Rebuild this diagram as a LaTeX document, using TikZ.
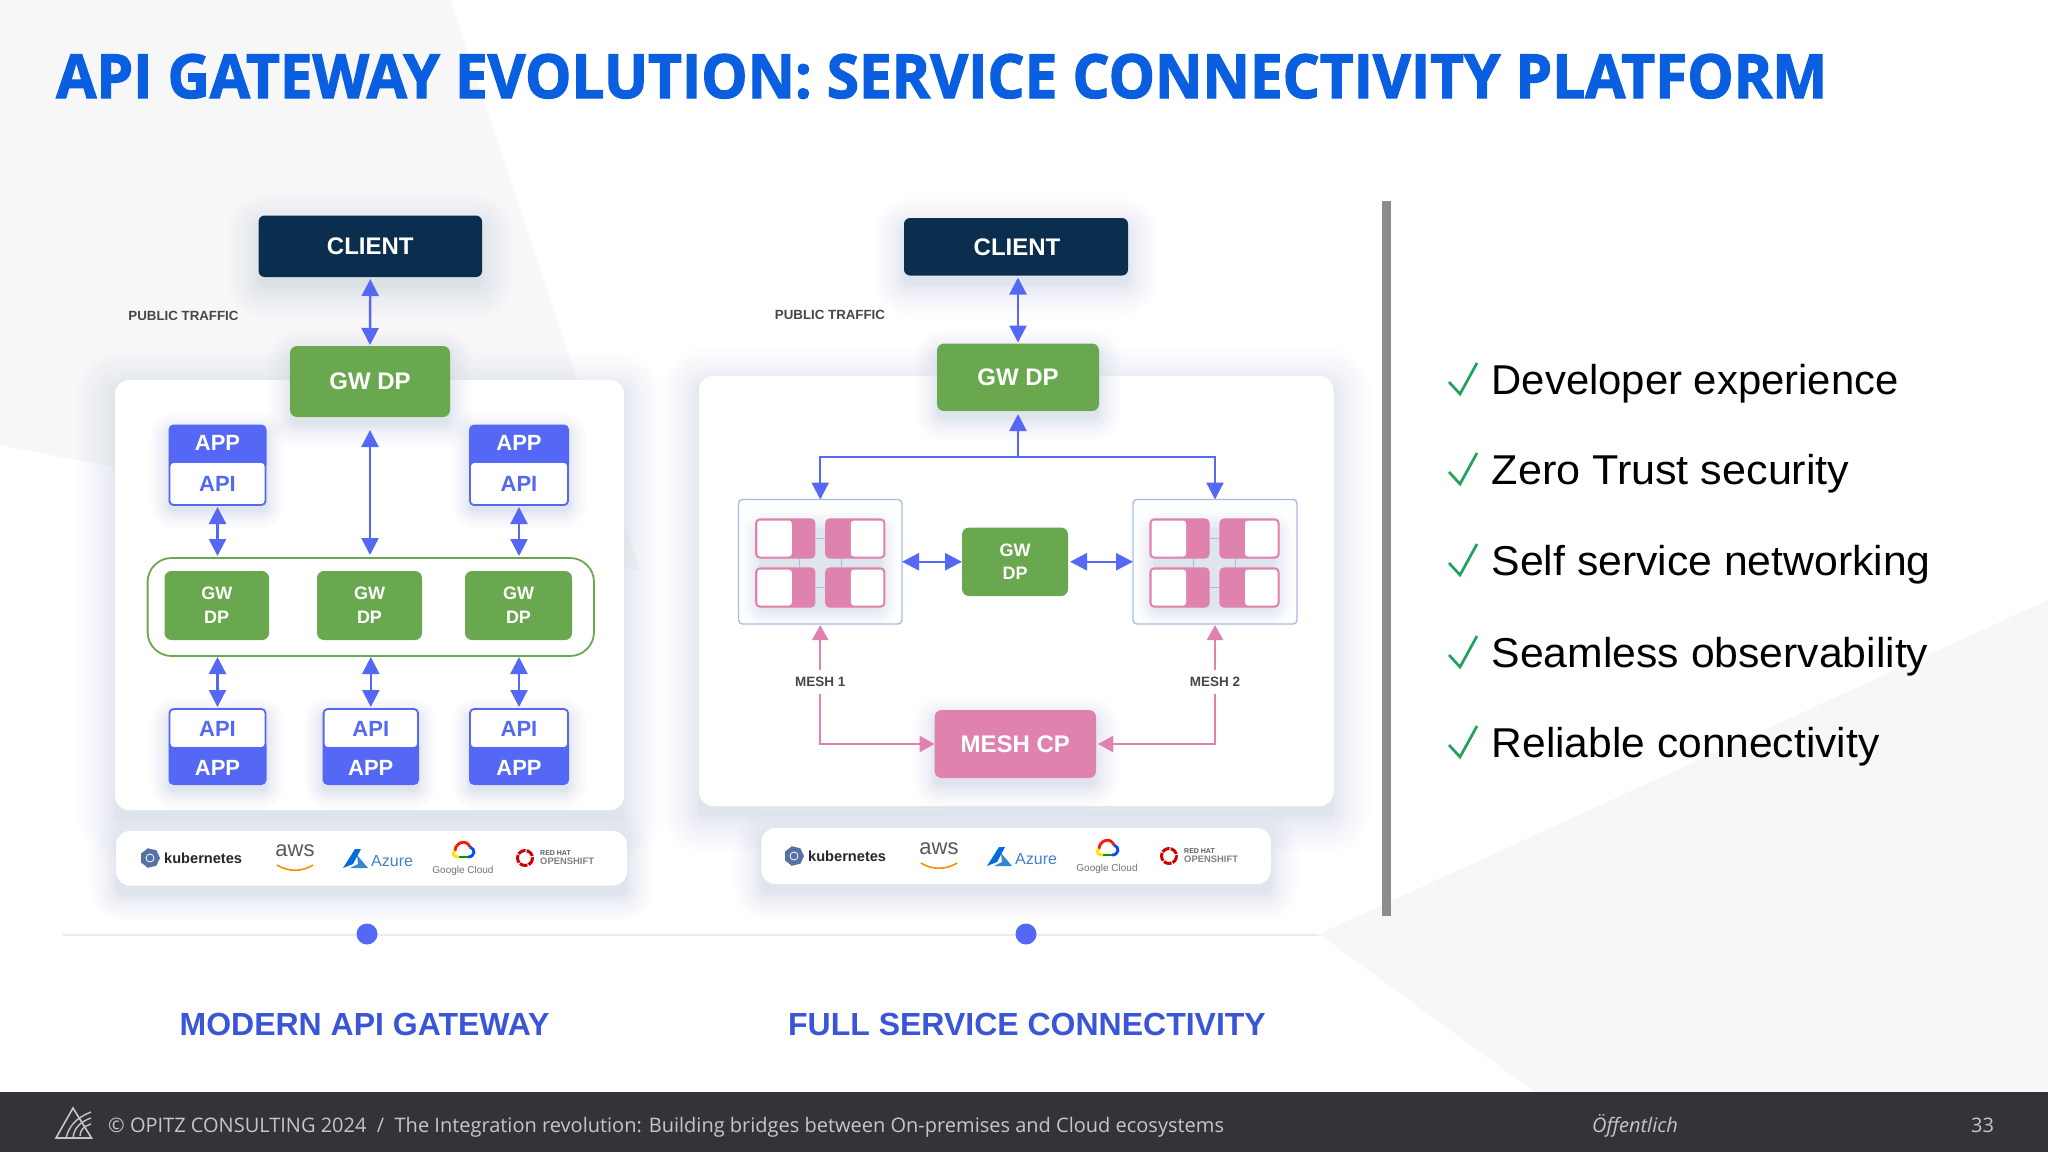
\documentclass[tikz,border=0pt]{standalone}
\usepackage{fontspec}
\usepackage{graphicx}
\usetikzlibrary{arrows.meta,calc}
\setmainfont{Liberation Sans}
\newfontfamily\titlefont[BoldFeatures={FakeBold=2},FakeStretch=0.96]{Open Sans}
\newfontfamily\footfont{Open Sans}
\definecolor{bluemain}{HTML}{5468F5}
\definecolor{greenmain}{HTML}{6AA84F}
\definecolor{pinkmain}{HTML}{DF82AE}
\definecolor{navymain}{HTML}{0B2D4E}
\definecolor{shadowcol}{HTML}{66718F}
\definecolor{bggray}{HTML}{F7F7F8}
\definecolor{titleblue}{HTML}{0A5FE0}
\definecolor{capblue}{HTML}{3A55D8}
\definecolor{footbg}{HTML}{333438}
\definecolor{foottext}{HTML}{C6C6C8}
\definecolor{checkgreen}{HTML}{1FA35C}
\definecolor{meshline}{HTML}{A9BCE0}
\tikzset{
  x=1pt,y=-1pt,
  boxbase/.style={inner sep=0pt,outer sep=0pt,align=center,text=white,font=\fontsize{24}{24}\selectfont\bfseries},
  clientbox/.style={boxbase,fill=navymain,rounded corners=6pt},
  gwbox/.style={boxbase,fill=greenmain,rounded corners=7pt},
  gwsmall/.style={boxbase,fill=greenmain,rounded corners=7pt,font=\fontsize{18}{23.7}\selectfont\bfseries},
  meshcpbox/.style={boxbase,fill=pinkmain,rounded corners=7pt},
  cardbox/.style={inner sep=0pt,outer sep=0pt,fill=white,rounded corners=14pt},
  groupbox/.style={inner sep=0pt,outer sep=0pt,fill=white,draw=greenmain,line width=1.8pt,rounded corners=24pt},
  appbox/.style={boxbase,fill=bluemain,rounded corners=5pt},
  apibox/.style={boxbase,fill=white,draw=bluemain,line width=1.8pt,text=bluemain,rounded corners=4pt,font=\fontsize{22}{22}\selectfont\bfseries},
  apptext/.style={inner sep=0pt,text=white,font=\fontsize{22}{22}\selectfont\bfseries},
  meshbox/.style={inner sep=0pt,outer sep=0pt,fill=white!99!shadowcol,draw=meshline,line width=1.4pt,rounded corners=4pt},
  tilebox/.style={inner sep=0pt,outer sep=0pt,fill=pinkmain,draw=pinkmain,line width=1.2pt,rounded corners=4pt},
  smalllabel/.style={inner sep=0pt,text=black!72,font=\fontsize{13.3}{14}\selectfont\bfseries},
  meshlabel/.style={inner sep=0pt,text=black!72,minimum height=23pt,font=\fontsize{13.5}{14}\selectfont\bfseries},
  captiontext/.style={inner sep=0pt,text=capblue,font=\fontsize{32}{32}\selectfont\bfseries},
  bullettext/.style={inner sep=0pt,anchor=base west,text=black,font=\fontsize{41.7}{42}\selectfont},
  checkmark/.style={draw=checkgreen,line width=2.7pt,line join=miter},
  biarrow/.style={draw=bluemain,line width=2.4pt,{Triangle[length=17pt,width=17pt]}-{Triangle[length=17pt,width=17pt]}},
  bluetip/.style={draw=bluemain,line width=2.4pt,-{Triangle[length=17pt,width=17pt]}},
  pinktip/.style={draw=pinkmain,line width=2pt,-{Triangle[length=15pt,width=16pt]}},
  tilelink/.style={draw=meshline,line width=1.6pt},
  foottxt/.style={inner sep=0pt,anchor=base west,text=foottext,font=\footfont\fontsize{20}{20}\selectfont},
}
\newcommand{\softshadow}[6]{%
  \foreach \k in {1,...,18}{%
    \pgfmathsetmacro\dd{1.25*#5*(1-\k/18)*(1-\k/18)}%
    \fill[shadowcol,fill opacity=.0095,rounded corners={(\dd+6)*1pt}]
      ({#1-\dd},{#2-\dd+#6}) rectangle ({#3+\dd},{#4+\dd+#6});
  }}
\newcommand{\bbox}[7]{\node[#1,minimum width={((#5)-(#3))*1pt},minimum height={((#6)-(#4))*1pt}] (#2) at ({((#3)+(#5))/2},{((#4)+(#6))/2}) {#7};}
\newcommand{\logos}[1]{%
  \begin{scope}[shift={#1}]
    \fill[cyan!45!blue!70!black!85] (150,858)+(0:10) -- +(51:10) -- +(103:10) -- +(154:10) -- +(206:10) -- +(257:10) -- +(309:10) -- cycle;
    \draw[white,line width=.8pt] (150,858) circle (4);
    \node[inner sep=0pt,anchor=west,text=black!85,font=\fontsize{14.6}{15}\selectfont\bfseries] (k8s) at (164,858) {kubernetes};
    \node[inner sep=0pt,text=black!65,font=\fontsize{22}{22}\selectfont] (awst) at (295,851) {aws};
    \draw[orange!90!yellow,line width=1.6pt] (277,865) .. controls (288,872) and (302,872) .. (313,865);
    \fill[blue!50!cyan!85!black] (343,868) -- (355,849) -- (361,849) -- (353,864) -- cycle;
    \fill[cyan!60!blue!85] (357,855) -- (368,868) -- (350,868) -- (358,864) -- cycle;
    \node[inner sep=0pt,anchor=west,text=cyan!50!blue!80,font=\fontsize{16}{16}\selectfont] (azt) at (371,861) {Azure};
    \draw[red!80!orange,line width=2.8pt] (455,851) .. controls (455,843) and (466,838) .. (470,847);
    \draw[blue!70!cyan,line width=2.8pt] (470,847) .. controls (476,849) and (475,857) .. (468,857);
    \draw[green!60!black,line width=2.8pt] (468,857) -- (459,857);
    \draw[yellow!85!orange,line width=2.8pt] (459,857) .. controls (453,857) and (452,853) .. (455,851);
    \node[inner sep=0pt,text=black!55,font=\fontsize{10}{10}\selectfont] (gct) at (463,871) {Google Cloud};
    \draw[red!80!black,line width=3pt,dash pattern=on 8pt off 1.2pt] (525,858) circle (7.5);
    \node[inner sep=0pt,anchor=west,text=black!65,font=\fontsize{7}{7}\selectfont\bfseries] (rht) at (540,853) {RED HAT};
    \node[inner sep=0pt,anchor=west,text=black!50,font=\fontsize{9.4}{9.4}\selectfont\bfseries] (ost) at (540,861) {OPENSHIFT};
  \end{scope}}
\newcommand{\tiles}[3]{% prefix, x offset of left tile, y offset
  \softshadow{#2+4}{#3+6}{#2+125}{#3+86}{16}{4}
  \bbox{tilebox}{#1a}{#2}{#3}{#2+59}{#3+39}{}
  \bbox{tilebox}{#1b}{#2+70}{#3}{#2+129}{#3+39}{}
  \bbox{tilebox}{#1c}{#2}{#3+49}{#2+59}{#3+88}{}
  \bbox{tilebox}{#1d}{#2+70}{#3+49}{#2+129}{#3+88}{}
  \draw[tilelink] (#1a.east) -- (#1b.west);
  \draw[tilelink] (#1c.east) -- (#1d.west);
  \draw[tilelink] ($(#1a.south)+(14,0)$) -- ($(#1c.north)+(14,0)$);
  \draw[tilelink] ($(#1b.south)+(-14,0)$) -- ($(#1d.north)+(-14,0)$);
  \fill[white,rounded corners=3pt] (#2+1.5,#3+1.5) rectangle (#2+36,#3+37.5);
  \fill[white,rounded corners=3pt] (#2+1.5,#3+50.5) rectangle (#2+36,#3+86.5);
  \fill[white,rounded corners=3pt] (#2+95,#3+1.5) rectangle (#2+127.5,#3+37.5);
  \fill[white,rounded corners=3pt] (#2+95,#3+50.5) rectangle (#2+127.5,#3+86.5);
}
\begin{document}
\begin{tikzpicture}
\useasboundingbox (0,0) rectangle (2048,1152);
\fill[white] (0,0) rectangle (2048,1152);
% background facets
\fill[bggray] (0,0) -- (450,0) -- (640,570) -- (0,445) -- cycle;
\fill[bggray] (2048,600) -- (1319,934) -- (1535,1092) -- (2048,1092) -- cycle;
% title
\node[inner sep=0pt,anchor=base west,text=titleblue,font=\titlefont\fontsize{60.8}{61}\selectfont\bfseries] (title) at (56,98) {API GATEWAY EVOLUTION: SERVICE CONNECTIVITY PLATFORM};
% left column
\softshadow{115}{380}{624}{810}{34}{10}
\softshadow{116}{831}{627}{885}{24}{10}
\softshadow{699}{376}{1333}{806}{34}{10}
\softshadow{761}{828}{1271}{884}{24}{10}
\bbox{cardbox}{card1}{115}{380}{624}{810}{}
\bbox{cardbox}{card2}{699}{376}{1333.5}{806}{}
\bbox{cardbox}{bar1}{116}{831}{627}{885.5}{}
\bbox{cardbox}{bar2}{761.4}{828}{1271}{884}{}
% timeline
\coordinate (tl1) at (63,935);
\coordinate (tl2) at (1319,935);
\draw[black!8,line width=2pt] (tl1) -- (tl2);
\fill[bluemain] (367,934) circle (10.5);
\fill[bluemain] (1026,934) circle (10.5);
% left diagram
\softshadow{259}{216}{482}{277}{28}{10}
\bbox{clientbox}{client1}{258.6}{215.5}{482}{277}{CLIENT}
\softshadow{290}{346}{450}{417}{20}{8}
\bbox{gwbox}{gw1}{290}{346}{450}{417}{GW DP}
\softshadow{168}{424}{267}{505}{16}{6}
\softshadow{469}{424}{569}{505}{16}{6}
\bbox{appbox}{appA}{168.5}{424.5}{266.5}{470}{}
\bbox{apibox}{apiA}{169.5}{462}{265.5}{505}{API}
\node[apptext] (appAt) at (217.5,443) {APP};
\bbox{appbox}{appB}{469}{424.5}{569}{470}{}
\bbox{apibox}{apiB}{470}{462}{568}{505}{API}
\node[apptext] (appBt) at (519,443) {APP};
\bbox{groupbox}{grp}{147.6}{558}{594}{656}{}
\bbox{gwsmall}{gA}{164.5}{571}{269}{640}{GW\\DP}
\bbox{gwsmall}{gB}{317}{571}{422}{640}{GW\\DP}
\bbox{gwsmall}{gC}{465}{571}{572}{640}{GW\\DP}
\softshadow{168}{709}{267}{785}{16}{6}
\softshadow{322}{709}{419}{785}{16}{6}
\softshadow{469}{709}{569}{785}{16}{6}
\bbox{appbox}{appC}{168.5}{740}{266.5}{785}{}
\bbox{apibox}{apiC}{169.5}{709}{265.5}{748}{API}
\node[apptext] (appCt) at (217.5,768) {APP};
\bbox{appbox}{appD}{322.6}{740}{419}{785}{}
\bbox{apibox}{apiD}{323.6}{709}{418}{748}{API}
\node[apptext] (appDt) at (370.8,768) {APP};
\bbox{appbox}{appE}{469}{740}{569}{785}{}
\bbox{apibox}{apiE}{470}{709}{568}{748}{API}
\node[apptext] (appEt) at (519,768) {APP};
\draw[biarrow,shorten <=2pt,shorten >=1pt] (client1.south) -- (gw1.north);
\draw[biarrow,shorten <=13pt,shorten >=3pt] (gw1.south) -- (gw1.south |- grp.north);
\draw[biarrow,shorten <=2pt,shorten >=2pt] (apiA.south) -- (apiA.south |- grp.north);
\draw[biarrow,shorten <=2pt,shorten >=2pt] (apiB.south) -- (apiB.south |- grp.north);
\draw[biarrow,shorten <=1pt,shorten >=2pt] (apiC.north |- grp.south) -- (apiC.north);
\draw[biarrow,shorten <=1pt,shorten >=2pt] (apiD.north |- grp.south) -- (apiD.north);
\draw[biarrow,shorten <=1pt,shorten >=2pt] (apiE.north |- grp.south) -- (apiE.north);
\node[smalllabel] (pub1) at (183.5,316) {PUBLIC TRAFFIC};
\logos{(0,0)}
% right diagram
\softshadow{904}{218}{1128}{275}{28}{10}
\bbox{clientbox}{client2}{904}{218}{1128}{275.5}{\hspace*{2pt}CLIENT}
\softshadow{937}{344}{1099}{411}{20}{8}
\bbox{gwbox}{gw2}{937}{343.5}{1099}{411}{GW DP}
\draw[biarrow,shorten <=2pt,shorten >=1pt] (client2.south -| gw2.north) -- (gw2.north);
\bbox{meshbox}{mboxA}{738.5}{499.5}{902}{624}{}
\bbox{meshbox}{mboxB}{1133}{499.5}{1297}{624}{}
\tiles{mA}{755.8}{519}
\tiles{mB}{1150}{519}
\bbox{gwsmall}{gM}{962}{527.5}{1068}{596}{GW\\DP}
\softshadow{935}{710}{1096}{778}{20}{8}
\bbox{meshcpbox}{mcp}{934.6}{710}{1096}{778}{MESH CP}
\coordinate (junc) at (gw2.south |- 0,457);
\draw[bluetip,shorten >=3pt] (junc) -- (gw2.south);
\draw[bluetip] (junc) -| (mboxA.north);
\draw[bluetip] (junc) -| (mboxB.north);
\draw[biarrow] (mboxA.east) -- (gM.west);
\draw[biarrow,shorten <=2pt] (gM.east) -- (mboxB.west);
\node[meshlabel] (mesh1) at (820.2,682) {MESH 1};
\node[meshlabel] (mesh2) at (1215,682) {MESH 2};
\draw[pinktip,shorten >=1pt] (mesh1.north) -- (mesh1.north |- mboxA.south);
\draw[pinktip,shorten >=1pt] (mesh2.north) -- (mesh2.north |- mboxB.south);
\draw[pinktip] (mesh1.south) |- (mcp.west);
\draw[pinktip,shorten >=2pt] (mesh2.south) |- (mcp.east);
\node[smalllabel] (pub2) at (830,315) {PUBLIC TRAFFIC};
\logos{(644,-2)}
% captions
\node[captiontext] (cap1) at (364.5,1024) {MODERN API GATEWAY};
\node[captiontext] (cap2) at (1027,1024) {FULL SERVICE CONNECTIVITY};
% divider
\fill[black!45] (1382,201) rectangle (1391,915.5);
% bullets
\foreach \yy/\sx/\txt in {394/1.003/Developer experience,484/1.034/Zero Trust security,575/1.024/Self service networking,667/1.024/Seamless observability,757/1.02/Reliable connectivity}{
  \draw[checkmark] (1449,\yy-12) -- (1460,\yy) -- (1477,\yy-31);
  \node[bullettext] at (1491.5,\yy) {\scalebox{\sx}[1]{\txt}};
}
% footer
\fill[footbg] (0,1092) rectangle (2048,1152);
\draw[foottext,line width=1.6pt] (73,1108) -- (91.5,1138) -- (56,1138) -- cycle;
\draw[foottext,line width=1.4pt] (66,1138) .. controls (69,1126) and (76,1118) .. (91,1112);
\draw[foottext,line width=1.4pt] (73,1138) .. controls (74,1128) and (80,1122) .. (91,1118);
\draw[foottext,line width=1.4pt] (80,1136) .. controls (80,1130) and (84,1126) .. (91,1124);
\node[foottxt] (ft1) at (108,1132) {© OPITZ CONSULTING 2024\ \ /\ \ The Integration revolution: Building bridges between On-premises and Cloud ecosystems};
\node[foottxt,font=\footfont\itshape\fontsize{20}{20}\selectfont] (ft2) at (1592,1132) {Öffentlich};
\node[foottxt,font=\footfont\fontsize{20}{20}\selectfont] (ft3) at (1971,1132) {33};
\end{tikzpicture}
\end{document}
